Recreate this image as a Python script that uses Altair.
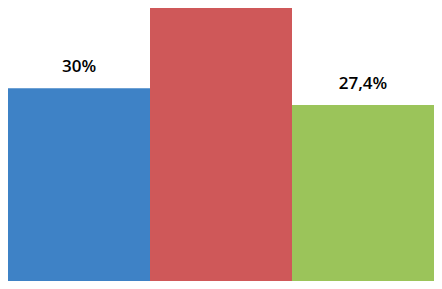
import altair as alt
import pandas as pd

categories = ["A", "B", "C"]
values = [30.0, 42.5, 27.4]
labels = ["30%", "", "27,4%"]
colors = ["#3E82C6", "#CF5859", "#9BC45A"]

df = pd.DataFrame({"cat": categories, "value": values, "label": labels})

x = alt.X("cat:N", sort=categories, axis=None,
          scale=alt.Scale(paddingInner=0, paddingOuter=0))
y = alt.Y("value:Q", axis=None, scale=alt.Scale(domain=[0, 42.5], nice=False, zero=True))

bars = alt.Chart(df).mark_bar(cornerRadius=0).encode(
    x=x,
    y=y,
    color=alt.Color("cat:N", scale=alt.Scale(domain=categories, range=colors), legend=None),
)

text = alt.Chart(df).mark_text(
    baseline="alphabetic", dy=-16, font="Open Sans", fontSize=17, fontWeight=600, color="#000000"
).encode(x=x, y=y, text="label:N")

chart = (bars + text).properties(
    width=426, height=273, padding=0,
    autosize=alt.AutoSizeParams(type="none"),
).configure_view(stroke=None)

chart.save("out.html", embed_options={"renderer": "svg", "actions": False})
